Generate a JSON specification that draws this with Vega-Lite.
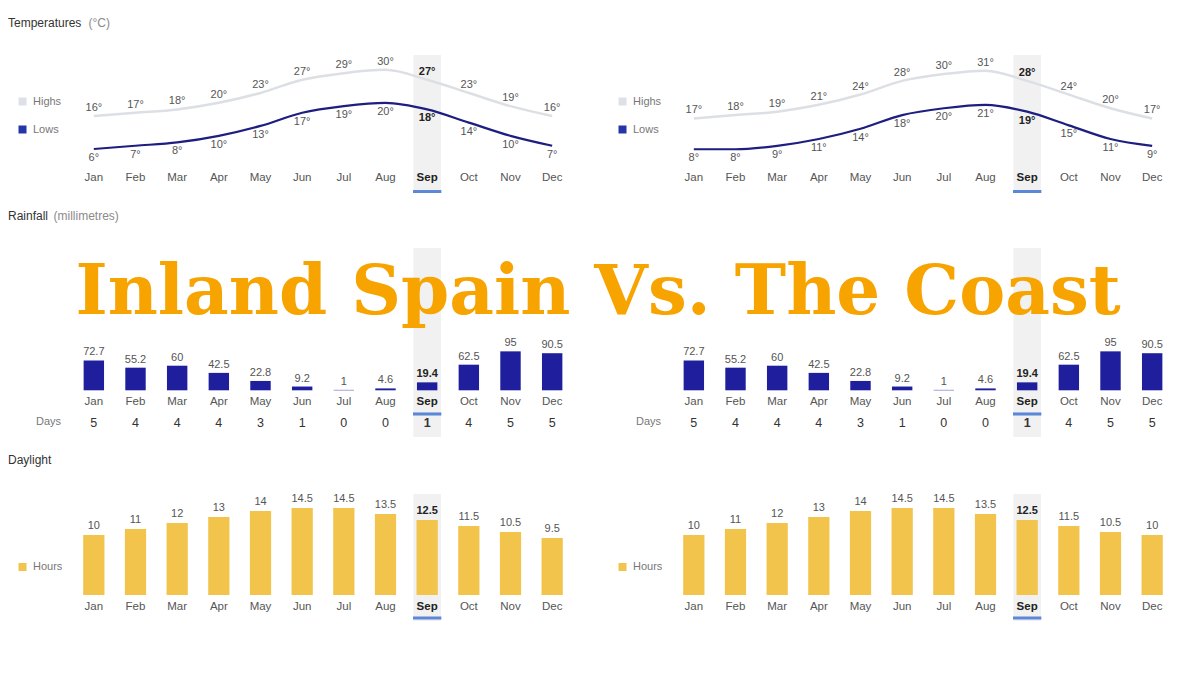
{
  "$schema": "https://vega.github.io/schema/vega-lite/v6.json",
  "background": "white",
  "padding": {"left": 8, "top": 16, "right": 0, "bottom": 0},
  "title": {"text": "Inland Spain Vs. The Coast", "anchor": "middle", "frame": "bounds", "font": "DejaVu Serif", "fontSize": 69, "fontWeight": "bold", "color": "#F7A300", "baseline": "alphabetic", "dy": 367, "offset": 0, "zindex": 5},
  "datasets": {
    "inland": [
      {"month": "Jan", "hi": 16, "lo": 6, "rain": 72.7, "days": 5, "day": 10},
      {"month": "Feb", "hi": 17, "lo": 7, "rain": 55.2, "days": 4, "day": 11},
      {"month": "Mar", "hi": 18, "lo": 8, "rain": 60, "days": 4, "day": 12},
      {"month": "Apr", "hi": 20, "lo": 10, "rain": 42.5, "days": 4, "day": 13},
      {"month": "May", "hi": 23, "lo": 13, "rain": 22.8, "days": 3, "day": 14},
      {"month": "Jun", "hi": 27, "lo": 17, "rain": 9.2, "days": 1, "day": 14.5},
      {"month": "Jul", "hi": 29, "lo": 19, "rain": 1, "days": 0, "day": 14.5},
      {"month": "Aug", "hi": 30, "lo": 20, "rain": 4.6, "days": 0, "day": 13.5},
      {"month": "Sep", "hi": 27, "lo": 18, "rain": 19.4, "days": 1, "day": 12.5},
      {"month": "Oct", "hi": 23, "lo": 14, "rain": 62.5, "days": 4, "day": 11.5},
      {"month": "Nov", "hi": 19, "lo": 10, "rain": 95, "days": 5, "day": 10.5},
      {"month": "Dec", "hi": 16, "lo": 7, "rain": 90.5, "days": 5, "day": 9.5}
    ],
    "coast": [
      {"month": "Jan", "hi": 17, "lo": 8, "rain": 72.7, "days": 5, "day": 10},
      {"month": "Feb", "hi": 18, "lo": 8, "rain": 55.2, "days": 4, "day": 11},
      {"month": "Mar", "hi": 19, "lo": 9, "rain": 60, "days": 4, "day": 12},
      {"month": "Apr", "hi": 21, "lo": 11, "rain": 42.5, "days": 4, "day": 13},
      {"month": "May", "hi": 24, "lo": 14, "rain": 22.8, "days": 3, "day": 14},
      {"month": "Jun", "hi": 28, "lo": 18, "rain": 9.2, "days": 1, "day": 14.5},
      {"month": "Jul", "hi": 30, "lo": 20, "rain": 1, "days": 0, "day": 14.5},
      {"month": "Aug", "hi": 31, "lo": 21, "rain": 4.6, "days": 0, "day": 13.5},
      {"month": "Sep", "hi": 28, "lo": 19, "rain": 19.4, "days": 1, "day": 12.5},
      {"month": "Oct", "hi": 24, "lo": 15, "rain": 62.5, "days": 4, "day": 11.5},
      {"month": "Nov", "hi": 20, "lo": 11, "rain": 95, "days": 5, "day": 10.5},
      {"month": "Dec", "hi": 17, "lo": 9, "rain": 90.5, "days": 5, "day": 10}
    ]
  },
  "spacing": 16,
  "resolve": {"scale": {"color": "independent", "x": "independent", "y": "independent"}, "legend": {"color": "independent"}},
  "vconcat": [
    {
      "hconcat": [
        {
          "width": 580, "height": 138,
          "title": {"text": "Temperatures", "offset": -14},
          "data": {"name": "inland"},
          "transform": [{"calculate": "datum.hi + '°'", "as": "hiL"}, {"calculate": "datum.lo + '°'", "as": "loL"}],
          "encoding": {"x": {"field": "month", "type": "nominal", "sort": null, "scale": {"domain": ["Jan","Feb","Mar","Apr","May","Jun","Jul","Aug","Sep","Oct","Nov","Dec"], "paddingInner": 0, "paddingOuter": 0.96, "align": 0.8125}, "axis": {"title": "(°C)", "titleX": 80, "titleY": -155, "titleAngle": 0, "titleAlign": "left", "titleBaseline": "middle", "titleColor": "#8a8a8a", "titleFontSize": 12, "titleFontWeight": "normal", "domain": false, "ticks": false, "grid": false, "labelAngle": 0, "labelPadding": 0, "offset": -16, "labelBaseline": "middle", "labelFontSize": 11.5, "labelColor": {"condition": {"test": "datum.value == 'Sep'", "value": "#222"}, "value": "#555"}, "labelFontWeight": {"condition": {"test": "datum.value == 'Sep'", "value": "bold"}, "value": "normal"}, "zindex": 2}}},
          "layer": [
            {"transform": [{"filter": "datum.month == 'Sep'"}], "mark": {"type": "bar", "color": "#f1f1f1", "width": {"band": 0.66}}, "encoding": {"y": {"datum": 34.5, "type": "quantitative", "scale": {"domain": [-7.33, 34.5], "nice": false, "zero": false}, "axis": {"values": [-7.33], "grid": true, "gridColor": "#e3e3e3", "gridWidth": 1.5, "labels": false, "ticks": false, "domain": false, "title": null}}, "y2": {"datum": -7.33}}},
            {"transform": [{"filter": "datum.month == 'Sep'"}], "mark": {"type": "bar", "color": "#5b87d6", "width": {"band": 0.68}}, "encoding": {"y": {"datum": -6.43, "type": "quantitative", "axis": null}, "y2": {"datum": -7.33}}},
            {"mark": {"type": "line", "interpolate": "monotone", "color": "#dcdfe4", "strokeWidth": 2.5}, "encoding": {"y": {"field": "hi", "type": "quantitative", "axis": null}}},
            {"mark": {"type": "line", "interpolate": "monotone", "color": "#1e1e80", "strokeWidth": 2.2}, "encoding": {"y": {"field": "lo", "type": "quantitative", "axis": null}}},
            {"mark": {"type": "square", "opacity": 0, "filled": true}, "encoding": {"y": {"field": "hi", "type": "quantitative", "axis": null}, "color": {"datum": "Highs", "scale": {"domain": ["Highs", "Lows"], "range": ["#dde0e6", "#2535a8"]}, "legend": {"orient": "none", "legendX": 9, "legendY": 41, "title": null, "symbolType": "square", "symbolSize": 64, "symbolOpacity": 1, "symbolStrokeWidth": 0, "labelFontSize": 11, "labelColor": "#777", "rowPadding": 16, "labelOffset": 5}}}},
            {"mark": {"type": "square", "opacity": 0, "filled": true}, "encoding": {"y": {"field": "lo", "type": "quantitative", "axis": null}, "color": {"datum": "Lows"}}},
            {"mark": {"type": "text", "dy": -8, "fontSize": 11, "baseline": "middle", "color": {"expr": "datum.month == 'Sep' ? '#222' : '#555'"}, "fontWeight": {"expr": "datum.month == 'Sep' ? 'bold' : 'normal'"}}, "encoding": {"y": {"field": "hi", "type": "quantitative", "axis": null}, "text": {"field": "hiL"}}},
            {"mark": {"type": "text", "dy": 9, "fontSize": 11, "baseline": "middle", "color": {"expr": "datum.month == 'Sep' ? '#222' : '#555'"}, "fontWeight": {"expr": "datum.month == 'Sep' ? 'bold' : 'normal'"}}, "encoding": {"y": {"field": "lo", "type": "quantitative", "axis": null}, "text": {"field": "loL"}}}
          ]
        },
        {
          "width": 580, "height": 138,
          "data": {"name": "coast"},
          "transform": [{"calculate": "datum.hi + '°'", "as": "hiL"}, {"calculate": "datum.lo + '°'", "as": "loL"}],
          "encoding": {"x": {"field": "month", "type": "nominal", "sort": null, "scale": {"domain": ["Jan","Feb","Mar","Apr","May","Jun","Jul","Aug","Sep","Oct","Nov","Dec"], "paddingInner": 0, "paddingOuter": 0.96, "align": 0.8125}, "axis": {"title": null, "domain": false, "ticks": false, "grid": false, "labelAngle": 0, "labelPadding": 0, "offset": -16, "labelBaseline": "middle", "labelFontSize": 11.5, "labelColor": {"condition": {"test": "datum.value == 'Sep'", "value": "#222"}, "value": "#555"}, "labelFontWeight": {"condition": {"test": "datum.value == 'Sep'", "value": "bold"}, "value": "normal"}, "zindex": 2}}},
          "layer": [
            {"transform": [{"filter": "datum.month == 'Sep'"}], "mark": {"type": "bar", "color": "#f1f1f1", "width": {"band": 0.66}}, "encoding": {"y": {"datum": 35.58, "type": "quantitative", "scale": {"domain": [-4.8, 35.58], "nice": false, "zero": false}, "axis": {"values": [-4.8], "grid": true, "gridColor": "#e3e3e3", "gridWidth": 1.5, "labels": false, "ticks": false, "domain": false, "title": null}}, "y2": {"datum": -4.8}}},
            {"transform": [{"filter": "datum.month == 'Sep'"}], "mark": {"type": "bar", "color": "#5b87d6", "width": {"band": 0.68}}, "encoding": {"y": {"datum": -3.92, "type": "quantitative", "axis": null}, "y2": {"datum": -4.8}}},
            {"mark": {"type": "line", "interpolate": "monotone", "color": "#dcdfe4", "strokeWidth": 2.5}, "encoding": {"y": {"field": "hi", "type": "quantitative", "axis": null}}},
            {"mark": {"type": "line", "interpolate": "monotone", "color": "#1e1e80", "strokeWidth": 2.2}, "encoding": {"y": {"field": "lo", "type": "quantitative", "axis": null}}},
            {"mark": {"type": "square", "opacity": 0, "filled": true}, "encoding": {"y": {"field": "hi", "type": "quantitative", "axis": null}, "color": {"datum": "Highs", "scale": {"domain": ["Highs", "Lows"], "range": ["#dde0e6", "#2535a8"]}, "legend": {"orient": "none", "legendX": 9, "legendY": 41, "title": null, "symbolType": "square", "symbolSize": 64, "symbolOpacity": 1, "symbolStrokeWidth": 0, "labelFontSize": 11, "labelColor": "#777", "rowPadding": 16, "labelOffset": 5}}}},
            {"mark": {"type": "square", "opacity": 0, "filled": true}, "encoding": {"y": {"field": "lo", "type": "quantitative", "axis": null}, "color": {"datum": "Lows"}}},
            {"mark": {"type": "text", "dy": -8, "fontSize": 11, "baseline": "middle", "color": {"expr": "datum.month == 'Sep' ? '#222' : '#555'"}, "fontWeight": {"expr": "datum.month == 'Sep' ? 'bold' : 'normal'"}}, "encoding": {"y": {"field": "hi", "type": "quantitative", "axis": null}, "text": {"field": "hiL"}}},
            {"mark": {"type": "text", "dy": 9, "fontSize": 11, "baseline": "middle", "color": {"expr": "datum.month == 'Sep' ? '#222' : '#555'"}, "fontWeight": {"expr": "datum.month == 'Sep' ? 'bold' : 'normal'"}}, "encoding": {"y": {"field": "lo", "type": "quantitative", "axis": null}, "text": {"field": "loL"}}}
          ]
        }
      ],
      "spacing": 20,
      "resolve": {"scale": {"color": "independent", "x": "independent", "y": "independent"}, "legend": {"color": "independent"}}
    },
    {
      "hconcat": [
        {
          "width": 580, "height": 189,
          "title": {"text": "Rainfall", "offset": -14},
          "data": {"name": "inland"},
          "encoding": {"x": {"field": "month", "type": "nominal", "sort": null, "scale": {"domain": ["Jan","Feb","Mar","Apr","May","Jun","Jul","Aug","Sep","Oct","Nov","Dec"], "paddingInner": 0, "paddingOuter": 0.96, "align": 0.8125}, "axis": {"title": "(millimetres)", "titleX": 45, "titleY": -186, "titleAngle": 0, "titleAlign": "left", "titleBaseline": "middle", "titleColor": "#8a8a8a", "titleFontSize": 12, "titleFontWeight": "normal", "domain": false, "ticks": false, "grid": false, "labelAngle": 0, "labelPadding": 0, "offset": -36, "labelBaseline": "middle", "labelFontSize": 11.5, "labelColor": {"condition": {"test": "datum.value == 'Sep'", "value": "#222"}, "value": "#555"}, "labelFontWeight": {"condition": {"test": "datum.value == 'Sep'", "value": "bold"}, "value": "normal"}, "zindex": 2}}},
          "layer": [
            {"transform": [{"filter": "datum.month == 'Sep'"}], "mark": {"type": "bar", "color": "#f1f1f1", "width": {"band": 0.66}}, "encoding": {"y": {"datum": 347.1, "type": "quantitative", "scale": {"domain": [-113.9, 347.1], "nice": false, "zero": false}, "axis": {"values": [-113.9, 104, 309], "grid": true, "gridColor": {"condition": {"test": "datum.value < -100", "value": "#e3e3e3"}, "value": "#f3f3f3"}, "gridWidth": {"condition": {"test": "datum.value < -100", "value": 1.5}, "value": 1}, "labels": false, "ticks": false, "domain": false, "title": null}}, "y2": {"datum": -113.9}}},
            {"transform": [{"filter": "datum.month == 'Sep'"}], "mark": {"type": "bar", "color": "#5b87d6", "width": {"band": 0.68}}, "encoding": {"y": {"datum": -54, "type": "quantitative", "axis": null}, "y2": {"datum": -61.5}}},
            {"mark": {"type": "bar", "color": "#1f1f9e", "width": {"band": 0.49}}, "encoding": {"y": {"field": "rain", "type": "quantitative", "axis": null}}},
            {"mark": {"type": "text", "dy": -8, "fontSize": 11, "baseline": "middle", "color": {"expr": "datum.month == 'Sep' ? '#222' : '#555'"}, "fontWeight": {"expr": "datum.month == 'Sep' ? 'bold' : 'normal'"}}, "encoding": {"y": {"field": "rain", "type": "quantitative", "axis": null}, "text": {"field": "rain", "type": "quantitative"}}},
            {"mark": {"type": "text", "fontSize": 12.5, "baseline": "middle", "fontWeight": {"expr": "datum.month == 'Sep' ? 'bold' : 'normal'"}}, "encoding": {"y": {"datum": -79.8, "type": "quantitative", "axis": null}, "text": {"field": "days", "type": "quantitative"}, "color": {"datum": "Days", "scale": {"domain": ["Days"], "range": ["#333333"]}, "legend": {"orient": "none", "legendX": 17, "legendY": 168.5, "title": null, "symbolSize": 0, "symbolOpacity": 0, "labelOffset": 0, "labelFontSize": 11, "labelColor": "#777"}}}}
          ]
        },
        {
          "width": 580, "height": 189,
          "data": {"name": "coast"},
          "encoding": {"x": {"field": "month", "type": "nominal", "sort": null, "scale": {"domain": ["Jan","Feb","Mar","Apr","May","Jun","Jul","Aug","Sep","Oct","Nov","Dec"], "paddingInner": 0, "paddingOuter": 0.96, "align": 0.8125}, "axis": {"title": null, "domain": false, "ticks": false, "grid": false, "labelAngle": 0, "labelPadding": 0, "offset": -36, "labelBaseline": "middle", "labelFontSize": 11.5, "labelColor": {"condition": {"test": "datum.value == 'Sep'", "value": "#222"}, "value": "#555"}, "labelFontWeight": {"condition": {"test": "datum.value == 'Sep'", "value": "bold"}, "value": "normal"}, "zindex": 2}}},
          "layer": [
            {"transform": [{"filter": "datum.month == 'Sep'"}], "mark": {"type": "bar", "color": "#f1f1f1", "width": {"band": 0.66}}, "encoding": {"y": {"datum": 347.1, "type": "quantitative", "scale": {"domain": [-113.9, 347.1], "nice": false, "zero": false}, "axis": {"values": [-113.9, 104, 309], "grid": true, "gridColor": {"condition": {"test": "datum.value < -100", "value": "#e3e3e3"}, "value": "#f3f3f3"}, "gridWidth": {"condition": {"test": "datum.value < -100", "value": 1.5}, "value": 1}, "labels": false, "ticks": false, "domain": false, "title": null}}, "y2": {"datum": -113.9}}},
            {"transform": [{"filter": "datum.month == 'Sep'"}], "mark": {"type": "bar", "color": "#5b87d6", "width": {"band": 0.68}}, "encoding": {"y": {"datum": -54, "type": "quantitative", "axis": null}, "y2": {"datum": -61.5}}},
            {"mark": {"type": "bar", "color": "#1f1f9e", "width": {"band": 0.49}}, "encoding": {"y": {"field": "rain", "type": "quantitative", "axis": null}}},
            {"mark": {"type": "text", "dy": -8, "fontSize": 11, "baseline": "middle", "color": {"expr": "datum.month == 'Sep' ? '#222' : '#555'"}, "fontWeight": {"expr": "datum.month == 'Sep' ? 'bold' : 'normal'"}}, "encoding": {"y": {"field": "rain", "type": "quantitative", "axis": null}, "text": {"field": "rain", "type": "quantitative"}}},
            {"mark": {"type": "text", "fontSize": 12.5, "baseline": "middle", "fontWeight": {"expr": "datum.month == 'Sep' ? 'bold' : 'normal'"}}, "encoding": {"y": {"datum": -79.8, "type": "quantitative", "axis": null}, "text": {"field": "days", "type": "quantitative"}, "color": {"datum": "Days", "scale": {"domain": ["Days"], "range": ["#333333"]}, "legend": {"orient": "none", "legendX": 17, "legendY": 168.5, "title": null, "symbolSize": 0, "symbolOpacity": 0, "labelOffset": 0, "labelFontSize": 11, "labelColor": "#777"}}}}
          ]
        }
      ],
      "spacing": 20,
      "resolve": {"scale": {"color": "independent", "x": "independent", "y": "independent"}, "legend": {"color": "independent"}}
    },
    {
      "hconcat": [
        {
          "width": 580, "height": 127,
          "title": {"text": "Daylight"},
          "data": {"name": "inland"},
          "encoding": {"x": {"field": "month", "type": "nominal", "sort": null, "scale": {"domain": ["Jan","Feb","Mar","Apr","May","Jun","Jul","Aug","Sep","Oct","Nov","Dec"], "paddingInner": 0, "paddingOuter": 0.96, "align": 0.8125}, "axis": {"title": null, "domain": false, "ticks": false, "grid": false, "labelAngle": 0, "labelPadding": 0, "offset": -15, "labelBaseline": "middle", "labelFontSize": 11.5, "labelColor": {"condition": {"test": "datum.value == 'Sep'", "value": "#222"}, "value": "#555"}, "labelFontWeight": {"condition": {"test": "datum.value == 'Sep'", "value": "bold"}, "value": "normal"}, "zindex": 2}}},
          "layer": [
            {"transform": [{"filter": "datum.month == 'Sep'"}], "mark": {"type": "bar", "color": "#f1f1f1", "width": {"band": 0.66}}, "encoding": {"y": {"datum": 16.83, "type": "quantitative", "scale": {"domain": [-4.33, 16.83], "nice": false, "zero": false}, "axis": {"values": [-4.33], "grid": true, "gridColor": "#e3e3e3", "gridWidth": 1.5, "labels": false, "ticks": false, "domain": false, "title": null}}, "y2": {"datum": -4.33}}},
            {"transform": [{"filter": "datum.month == 'Sep'"}], "mark": {"type": "bar", "color": "#5b87d6", "width": {"band": 0.68}}, "encoding": {"y": {"datum": -3.58, "type": "quantitative", "axis": null}, "y2": {"datum": -4.08}}},
            {"mark": {"type": "bar", "width": {"band": 0.51}}, "encoding": {"y": {"field": "day", "type": "quantitative", "axis": null}, "color": {"datum": "Hours", "scale": {"domain": ["Hours"], "range": ["#f2c44c"]}, "legend": {"orient": "none", "legendX": 9, "legendY": 67.5, "title": null, "symbolType": "square", "symbolSize": 64, "symbolStrokeWidth": 0, "labelFontSize": 11, "labelColor": "#777", "labelOffset": 5}}}},
            {"mark": {"type": "text", "dy": -9, "fontSize": 11, "baseline": "middle", "color": {"expr": "datum.month == 'Sep' ? '#222' : '#555'"}, "fontWeight": {"expr": "datum.month == 'Sep' ? 'bold' : 'normal'"}}, "encoding": {"y": {"field": "day", "type": "quantitative", "axis": null}, "text": {"field": "day", "type": "quantitative"}}}
          ]
        },
        {
          "width": 580, "height": 127,
          "data": {"name": "coast"},
          "encoding": {"x": {"field": "month", "type": "nominal", "sort": null, "scale": {"domain": ["Jan","Feb","Mar","Apr","May","Jun","Jul","Aug","Sep","Oct","Nov","Dec"], "paddingInner": 0, "paddingOuter": 0.96, "align": 0.8125}, "axis": {"title": null, "domain": false, "ticks": false, "grid": false, "labelAngle": 0, "labelPadding": 0, "offset": -15, "labelBaseline": "middle", "labelFontSize": 11.5, "labelColor": {"condition": {"test": "datum.value == 'Sep'", "value": "#222"}, "value": "#555"}, "labelFontWeight": {"condition": {"test": "datum.value == 'Sep'", "value": "bold"}, "value": "normal"}, "zindex": 2}}},
          "layer": [
            {"transform": [{"filter": "datum.month == 'Sep'"}], "mark": {"type": "bar", "color": "#f1f1f1", "width": {"band": 0.66}}, "encoding": {"y": {"datum": 16.83, "type": "quantitative", "scale": {"domain": [-4.33, 16.83], "nice": false, "zero": false}, "axis": {"values": [-4.33], "grid": true, "gridColor": "#e3e3e3", "gridWidth": 1.5, "labels": false, "ticks": false, "domain": false, "title": null}}, "y2": {"datum": -4.33}}},
            {"transform": [{"filter": "datum.month == 'Sep'"}], "mark": {"type": "bar", "color": "#5b87d6", "width": {"band": 0.68}}, "encoding": {"y": {"datum": -3.58, "type": "quantitative", "axis": null}, "y2": {"datum": -4.08}}},
            {"mark": {"type": "bar", "width": {"band": 0.51}}, "encoding": {"y": {"field": "day", "type": "quantitative", "axis": null}, "color": {"datum": "Hours", "scale": {"domain": ["Hours"], "range": ["#f2c44c"]}, "legend": {"orient": "none", "legendX": 9, "legendY": 67.5, "title": null, "symbolType": "square", "symbolSize": 64, "symbolStrokeWidth": 0, "labelFontSize": 11, "labelColor": "#777", "labelOffset": 5}}}},
            {"mark": {"type": "text", "dy": -9, "fontSize": 11, "baseline": "middle", "color": {"expr": "datum.month == 'Sep' ? '#222' : '#555'"}, "fontWeight": {"expr": "datum.month == 'Sep' ? 'bold' : 'normal'"}}, "encoding": {"y": {"field": "day", "type": "quantitative", "axis": null}, "text": {"field": "day", "type": "quantitative"}}}
          ]
        }
      ],
      "spacing": 20,
      "resolve": {"scale": {"color": "independent", "x": "independent", "y": "independent"}, "legend": {"color": "independent"}}
    }
  ],
  "config": {
    "view": {"stroke": null},
    "font": "Liberation Sans",
    "title": {"anchor": "start", "frame": "group", "fontSize": 12, "fontWeight": "normal", "color": "#333333", "offset": 26}
  }
}
